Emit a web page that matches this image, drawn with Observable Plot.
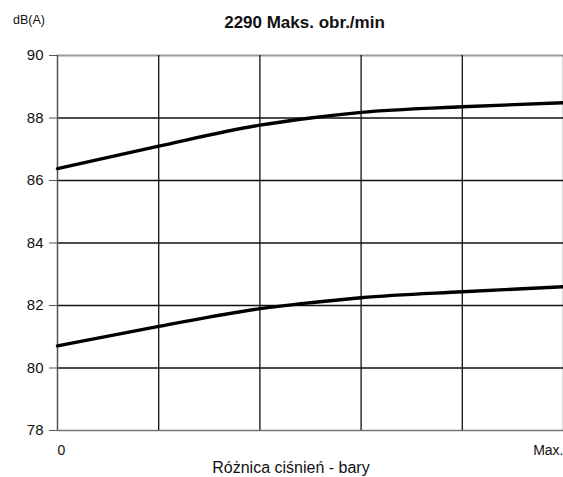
<!DOCTYPE html>
<html>
<head>
<meta charset="utf-8">
<script src="https://cdn.jsdelivr.net/npm/d3@7"></script>
<script src="https://cdn.jsdelivr.net/npm/@observablehq/plot@0.6"></script>
<style>
  html, body { margin: 0; padding: 0; background: #fff; }
  #wrap { position: relative; width: 563px; height: 477px; overflow: hidden; font-family: "Liberation Sans", Arial, sans-serif; }
  #title { position: absolute; left: 0; width: 609px; top: 13px; line-height: 20px; text-align: center; font-weight: bold; font-size: 17px; color: #111; }
  #unit { position: absolute; left: 13px; top: 12px; line-height: 16px; font-size: 12.5px; color: #111; }
  #chart { position: absolute; left: 0; top: 0; }
</style>
</head>
<body>
<div id="wrap">
  <div id="chart"></div>
  <div id="unit">dB(A)</div>
  <div id="title">2290 Maks. obr./min</div>
</div>
<script>
const xPositions = [0, 1, 2, 2.5, 3, 4, 5];
const upperSeries = [86.38, 87.10, 87.77, 88.0, 88.18, 88.36, 88.49];
const lowerSeries = [80.71, 81.33, 81.90, 82.09, 82.25, 82.44, 82.60];
const yTicks = [78, 80, 82, 84, 86, 88, 90];
const xGrid = [0, 1, 2, 3, 4, 5];
const xTickStart = "0";
const xTickEnd = "Max.";
const xLabel = "Różnica ciśnień - bary";

const data = [
  ...xPositions.map((x, i) => ({x, y: upperSeries[i], s: "upper"})),
  ...xPositions.map((x, i) => ({x, y: lowerSeries[i], s: "lower"}))
];

const chart = Plot.plot({
  width: 563,
  height: 477,
  marginLeft: 57,
  marginRight: 0,
  marginTop: 55,
  marginBottom: 47,
  style: {fontFamily: "Liberation Sans, Arial, sans-serif", fontSize: "13px", color: "#111", background: "transparent", overflow: "hidden"},
  x: {type: "linear", domain: [0, 5], axis: null},
  y: {type: "linear", domain: [78, 90], axis: null},
  marks: [
    Plot.ruleY(yTicks.filter(v => v !== 90 && v !== 78), {stroke: "#111", strokeWidth: 1.3}),
    Plot.ruleY([90], {stroke: "#9a9a9a", strokeWidth: 2}),
    Plot.ruleY([78], {stroke: "#777", strokeWidth: 1.3}),
    Plot.ruleX(xGrid.filter(v => v > 0), {stroke: "#111", strokeWidth: 1.3}),
    Plot.ruleX([0], {stroke: "#555", strokeWidth: 1.5}),
    Plot.axisY(yTicks, {tickSize: 8, tickPadding: 6, stroke: "#555", fontSize: 15, label: null, anchor: "left"}),
    Plot.line(data, {x: "x", y: "y", z: "s", curve: "monotone-x", stroke: "#000", strokeWidth: 3.4}),
    Plot.text([xTickStart], {x: 0, y: 78, text: d => d, textAnchor: "start", dy: 20, fontSize: 14}),
    Plot.text([xTickEnd], {x: 5, y: 78, text: d => d, textAnchor: "end", dy: 20, fontSize: 14}),
    Plot.text([xLabel], {x: 2.307, y: 78, text: d => d, dy: 37, fontSize: 16})
  ]
});
document.getElementById("chart").appendChild(chart);
</script>
</body>
</html>
